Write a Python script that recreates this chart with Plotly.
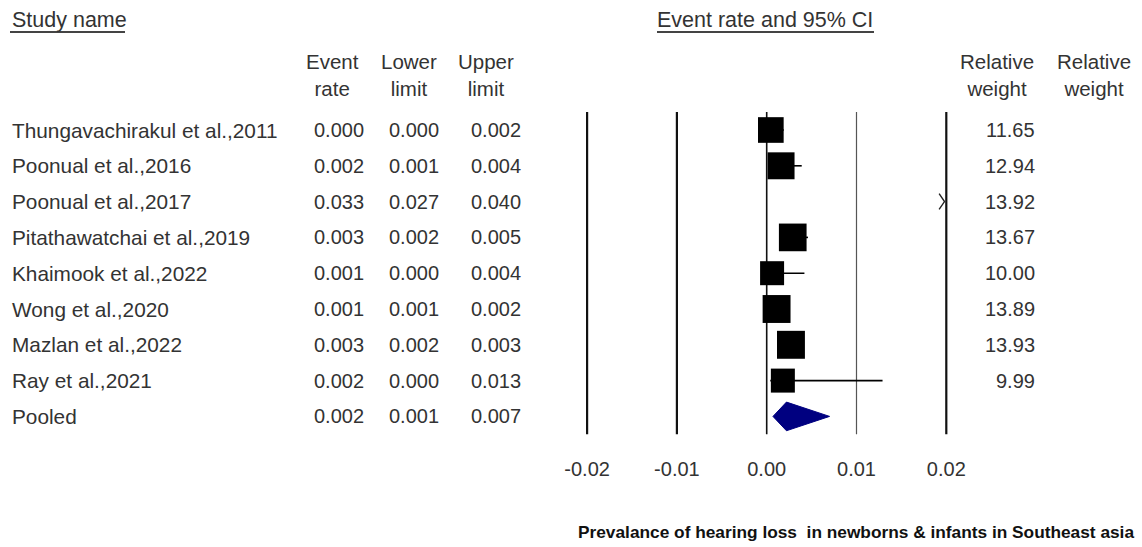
import plotly.graph_objects as go

# ---------------- data ----------------
studies = ["Thungavachirakul et al.,2011", "Poonual et al.,2016", "Poonual et al.,2017",
           "Pitathawatchai et al.,2019", "Khaimook et al.,2022", "Wong et al.,2020",
           "Mazlan et al.,2022", "Ray et al.,2021"]
event_rate = [0.00046, 0.0016, 0.033, 0.0029, 0.0006, 0.0011, 0.0027, 0.0018]
lower_limit = [0.0002, 0.0009, 0.027, 0.0020, 0.0002, 0.0008, 0.0022, 0.0004]
upper_limit = [0.0019, 0.0039, 0.040, 0.0046, 0.0042, 0.0016, 0.0033, 0.0129]
rel_weight = [11.65, 12.94, 13.92, 13.67, 10.00, 13.89, 13.93, 9.99]

pooled_label = "Pooled"
pooled_rate = 0.0022
pooled_lower = 0.0007
pooled_upper = 0.0070

tick_values = [-0.02, -0.01, 0.00, 0.01, 0.02]
tick_labels = ["-0.02", "-0.01", "0.00", "0.01", "0.02"]

title_text = "Prevalance of hearing loss&nbsp; in newborns &amp; infants in Southeast asia"

# ---------------- layout helpers ----------------
W, H = 1142, 547
FONT = "Liberation Sans, Arial, sans-serif"
TXT = "#333333"
FS = 20

def px(x):
    return x / W

def py(y):
    return 1 - y / H

# x scale: 0 at 766.7px, 8980 px per unit
x0_px, ppu = 766.7, 8980.0
dom_l, dom_r = 560, 975
x_range = [(dom_l - x0_px) / ppu, (dom_r - x0_px) / ppu]
# y scale: row 0 at 130px, 35.8px per row
row0_px, row_step = 130.0, 35.8
top_px, bot_px = 95, 455
y_range = [(bot_px - row0_px) / row_step, (top_px - row0_px) / row_step]

n = len(studies)
rows = list(range(n))
pooled_row = n

fig = go.Figure()

# reference vertical lines
for v in tick_values:
    if v == 0.01:
        col, w = "#555555", 1.2
    elif v == 0.0:
        col, w = "#111111", 1.6
    else:
        col, w = "#111111", 2.2
    fig.add_shape(type="line", xref="x", yref="y", x0=v, x1=v, y0=-0.5, y1=pooled_row + 0.5,
                  line=dict(color=col, width=w), layer="below")

# study squares with CI whiskers
fig.add_trace(go.Scatter(
    x=event_rate, y=rows, mode="markers",
    marker=dict(symbol="square", color="black", opacity=1,
                size=[w + 14 for w in rel_weight], line=dict(width=0)),
    error_x=dict(type="data", symmetric=False,
                 array=[u - e for u, e in zip(upper_limit, event_rate)],
                 arrayminus=[e - l for e, l in zip(event_rate, lower_limit)],
                 color="black", thickness=1.6, width=0),
    showlegend=False, hoverinfo="skip"))

# off-scale indicator arrows
x_max = tick_values[-1]
for i, e in enumerate(event_rate):
    if e > x_max:
        tip = x_max - 0.0002
        fig.add_trace(go.Scatter(
            x=[tip - 0.0006, tip, tip - 0.0006], y=[i - 0.22, i, i + 0.22],
            mode="lines", line=dict(color="#222222", width=1.4),
            showlegend=False, hoverinfo="skip"))

# pooled diamond
fig.add_trace(go.Scatter(
    x=[pooled_lower, pooled_rate, pooled_upper, pooled_rate, pooled_lower],
    y=[pooled_row, pooled_row - 0.4, pooled_row, pooled_row + 0.4, pooled_row],
    mode="lines", fill="toself", fillcolor="#000080",
    line=dict(color="#000080", width=1),
    showlegend=False, hoverinfo="skip"))

# ---------------- text ----------------
ann = []

def add(text, x, y, xanchor="center", yref="paper", size=FS, family=FONT, color=TXT):
    ann.append(dict(text=text, x=px(x), y=y, xref="paper", yref=yref, xanchor=xanchor,
                    yanchor="middle", showarrow=False,
                    font=dict(family=family, size=size, color=color)))

add("Study name", 10, py(20), xanchor="left", size=21.5)
add("Event rate and 95% CI", 765, py(20), size=21.5)
fig.add_shape(type="line", xref="paper", yref="paper", x0=px(10), x1=px(125), y0=py(32), y1=py(32),
              line=dict(color="#444444", width=2))
fig.add_shape(type="line", xref="paper", yref="paper", x0=px(657), x1=px(874), y0=py(32), y1=py(32),
              line=dict(color="#444444", width=2))
add("Event<br>rate", 332, py(75), size=20.5)
add("Lower<br>limit", 409, py(75), size=20.5)
add("Upper<br>limit", 486, py(75), size=20.5)
add("Relative<br>weight", 997, py(75), size=20.5)
add("Relative<br>weight", 1094, py(75), size=20.5)

names = studies + [pooled_label]
er = event_rate + [pooled_rate]
lo = lower_limit + [pooled_lower]
hi = upper_limit + [pooled_upper]
for i in range(n + 1):
    add(names[i], 10, i, xanchor="left", yref="y", size=20.8)
    add(f"{er[i]:.3f}", 339, i, yref="y")
    add(f"{lo[i]:.3f}", 414, i, yref="y")
    add(f"{hi[i]:.3f}", 496, i, yref="y")
for i in range(n):
    add(f"{rel_weight[i]:.2f}", 1037, i, xanchor="right", yref="y")

ann.append(dict(text="<b>" + title_text + "</b>", x=px(1136), y=py(532), xref="paper", yref="paper",
                xanchor="right", yanchor="middle", showarrow=False,
                font=dict(family="Liberation Sans, Arial", size=17.3, color="#111111")))

fig.update_layout(
    width=W, height=H, margin=dict(l=0, r=0, t=0, b=0),
    paper_bgcolor="white", plot_bgcolor="white",
    font=dict(family=FONT, size=FS, color=TXT),
    annotations=ann,
    xaxis=dict(domain=[px(dom_l), px(dom_r)], range=x_range, showgrid=False, zeroline=False,
               showline=False, ticks="", tickvals=tick_values, ticktext=tick_labels,
               tickfont=dict(family=FONT, size=FS, color=TXT), fixedrange=True),
    yaxis=dict(domain=[py(bot_px), py(top_px)], range=y_range, showgrid=False, zeroline=False,
               showline=False, showticklabels=False, ticks="", fixedrange=True),
)

fig.write_html("out.html")
